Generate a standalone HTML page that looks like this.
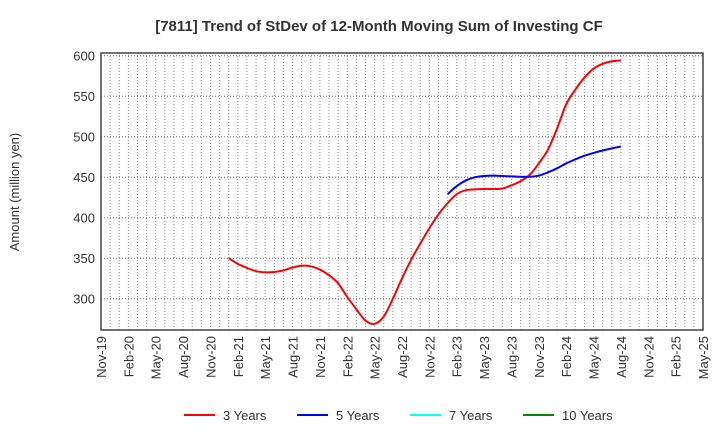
<!DOCTYPE html>
<html><head><meta charset="utf-8"><style>
body{margin:0;background:#fff;font-family:"Liberation Sans",sans-serif;}
</style></head><body>
<svg id="chart" width="720" height="440" xmlns="http://www.w3.org/2000/svg" font-family="Liberation Sans, sans-serif">
<text x="379" y="31" text-anchor="middle" font-size="15" font-weight="bold" fill="#333">[7811]  Trend of StDev of 12-Month Moving Sum of Investing CF</text>
<text transform="translate(19,192) rotate(-90)" text-anchor="middle" font-size="13" fill="#333">Amount (million yen)</text>
<g id="grid"></g>
<g id="axes"></g>
<g id="series"></g>
<g id="legend"></g>
</svg>
<script>
const xTickLabels=["Nov-19","Feb-20","May-20","Aug-20","Nov-20","Feb-21","May-21","Aug-21","Nov-21","Feb-22","May-22","Aug-22","Nov-22","Feb-23","May-23","Aug-23","Nov-23","Feb-24","May-24","Aug-24","Nov-24","Feb-25","May-25"];
const yTicks=[300,350,400,450,500,550,600];
const red3yStart=14;
const red3y=[350,343,338,334,332.6,333,335,338.5,340.7,340,336,329,319,302,287,273,269,278,300,325,348,368,387,404,418,429,434,435,435.5,435.5,436,440,445,453,467,484,510,540,558,573,584,590,593,594];
const blue5yStart=38;
const blue5y=[429,439,446,450,451.5,452,451.5,451,450.5,450.5,452,456,461,467,472,476.5,480,483,485.5,488];
const seven7y=[];const ten10y=[];
const L=101,R=703,T=53,B=330,months=66;
const X=m=>L+(R-L)*m/months;
const Y=v=>55.7+(600-v)*(40.5/50);
const NS="http://www.w3.org/2000/svg";
function mk(t,a,p){const e=document.createElementNS(NS,t);for(const k in a)e.setAttribute(k,a[k]);p.appendChild(e);return e;}
const grid=document.getElementById('grid'),axes=document.getElementById('axes'),ser=document.getElementById('series'),leg=document.getElementById('legend');
for(let m=1;m<months;m++){const g=mk('line',{x1:X(m),x2:X(m),y1:T,y2:B,stroke:'#888','stroke-width':1,'stroke-dasharray':'1,2'},grid);

}
yTicks.forEach(v=>{const g=mk('line',{x1:L,x2:R,y1:Y(v),y2:Y(v),stroke:'#666','stroke-width':1,'stroke-dasharray':'1,2'},grid);


const t=mk('text',{x:L-6,y:Y(v)+5,'text-anchor':'end','font-size':13,fill:'#333'},axes);t.textContent=v;

});
const fr=mk('rect',{x:L,y:T,width:R-L,height:B-T,fill:'none',stroke:'#444','stroke-width':1.5},axes);


xTickLabels.forEach((s,i)=>{const x=X(i*3);const t=mk('text',{transform:`translate(${x+5},${B+6}) rotate(-90)`,'text-anchor':'end','font-size':13,fill:'#333'},axes);t.textContent=s;

});
function path(start,vals,color,name){if(!vals.length)return;const p=vals.map((v,i)=>[X(start+i),Y(v)]);let d=`M${p[0][0]},${p[0][1]}`;
for(let i=0;i<p.length-1;i++){const p0=p[i-1]||p[i],p1=p[i],p2=p[i+1],p3=p[i+2]||p2;
d+=` C${p1[0]+(p2[0]-p0[0])/6},${p1[1]+(p2[1]-p0[1])/6} ${p2[0]-(p3[0]-p1[0])/6},${p2[1]-(p3[1]-p1[1])/6} ${p2[0]},${p2[1]}`;}
const e=mk('path',{d,fill:'none',stroke:color,'stroke-width':2},ser);

}
path(red3yStart,red3y,'#f00','line-3-years');
path(blue5yStart,blue5y,'#00f','line-5-years');
path(0,seven7y,'#0ff','line-7-years');
path(0,ten10y,'#080','line-10-years');
[["3 Years","#f00",184],["5 Years","#00f",297],["7 Years","#0ff",410],["10 Years","#080",523]].forEach(([s,c,x])=>{
const g=mk('g',{},leg);


mk('line',{x1:x,x2:x+31,y1:415,y2:415,stroke:c,'stroke-width':2},g);
const t=mk('text',{x:x+39,y:420,'font-size':13,fill:'#333'},g);t.textContent=s;});
</script>
</body></html>
